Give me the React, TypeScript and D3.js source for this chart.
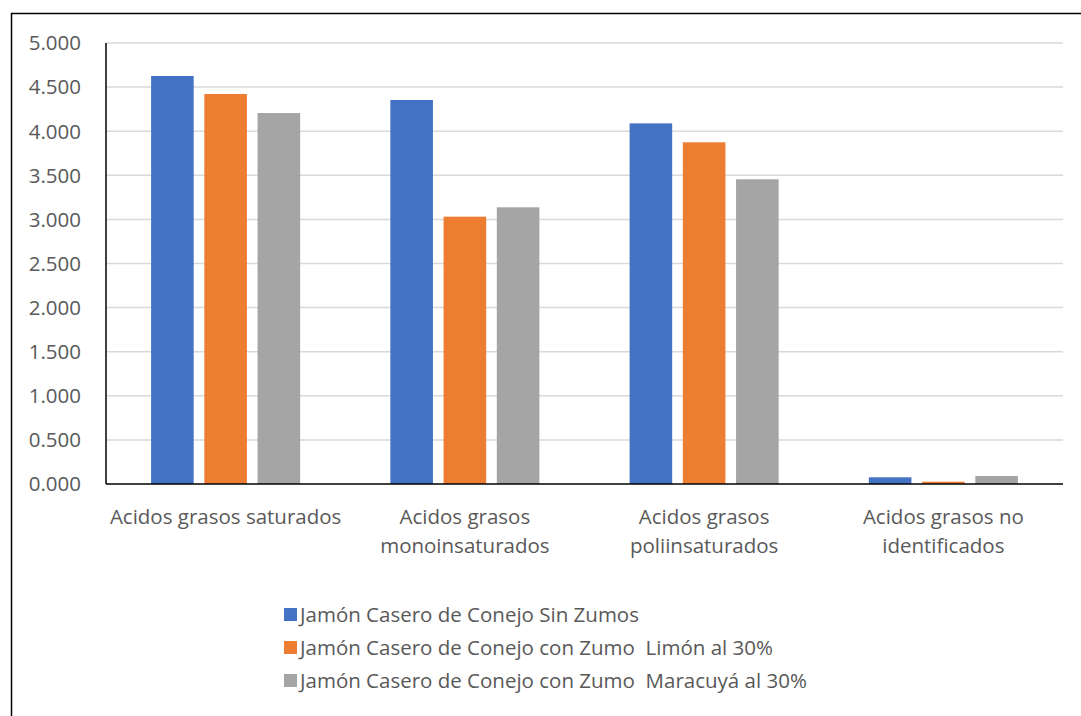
import { useEffect, useRef } from 'react'
import * as d3 from 'd3'

const categories = [
  ['Acidos grasos saturados'],
  ['Acidos grasos', 'monoinsaturados'],
  ['Acidos grasos', 'poliinsaturados'],
  ['Acidos grasos no', 'identificados'],
]
const seriesNames = [
  'Jamón Casero de Conejo Sin Zumos',
  'Jamón Casero de Conejo con Zumo  Limón al 30%',
  'Jamón Casero de Conejo con Zumo  Maracuyá al 30%',
]
const sinZumos = [4.626, 4.354, 4.089, 0.076]
const limon = [4.422, 3.031, 3.874, 0.026]
const maracuya = [4.206, 3.137, 3.455, 0.091]
const yTicks = [0, 0.5, 1, 1.5, 2, 2.5, 3, 3.5, 4, 4.5, 5]
const colors = ['#4472c4', '#ed7d31', '#a5a5a5']

const App = () => {
  const svgRef = useRef(null)

  useEffect(() => {
    const width = 1081
    const height = 716
    const left = 106
    const right = 1063
    const top = 43
    const bottom = 484
    const font = '"Open Sans", sans-serif'
    const textColor = '#595959'

    const svg = d3.select(svgRef.current)
    svg.selectAll('*').remove()
    svg.attr('width', width).attr('height', height)

    // chart border
    svg
      .append('rect')
      .attr('x', 11.5)
      .attr('y', 13.5)
      .attr('width', 1100)
      .attr('height', 720)
      .attr('fill', 'white')
      .attr('stroke', '#000')
      .attr('stroke-width', 1.5)

    const y = d3.scaleLinear().domain([0, 5]).range([bottom, top])
    const keys = categories.map((c) => c.join(' '))
    const x0 = d3.scaleBand().domain(keys).range([left, right]).paddingInner(0.377).paddingOuter(0.1885)
    const x1 = d3.scaleBand().domain(seriesNames).range([0, x0.bandwidth()]).paddingInner(0.2)
    const values = [sinZumos, limon, maracuya]

    // gridlines
    svg
      .append('g')
      .selectAll('line')
      .data(yTicks.slice(1))
      .join('line')
      .attr('x1', left)
      .attr('x2', right)
      .attr('y1', (d) => y(d))
      .attr('y2', (d) => y(d))
      .attr('stroke', '#d9d9d9')
      .attr('stroke-width', 1.5)

    // y labels
    svg
      .append('g')
      .selectAll('text')
      .data(yTicks)
      .join('text')
      .attr('x', 81)
      .attr('y', (d) => y(d))
      .attr('dy', '0.36em')
      .attr('text-anchor', 'end')
      .attr('font-family', font)
      .attr('font-size', 20.5)
      .attr('fill', textColor)
      .text((d) => d3.format('.3f')(d).replace('.', '.'))

    // bars
    values.forEach((vals, si) => {
      svg
        .append('g')
        .selectAll('rect')
        .data(vals)
        .join('rect')
        .attr('x', (_, i) => (x0(keys[i]) as number) + (x1(seriesNames[si]) as number))
        .attr('y', (d) => y(d))
        .attr('width', x1.bandwidth())
        .attr('height', (d) => bottom - y(d))
        .attr('fill', colors[si])
    })

    // axes lines
    svg.append('line').attr('x1', left).attr('x2', left).attr('y1', top).attr('y2', bottom).attr('stroke', '#000').attr('stroke-width', 1.5)
    svg.append('line').attr('x1', left).attr('x2', right).attr('y1', bottom).attr('y2', bottom).attr('stroke', '#000').attr('stroke-width', 1.5)

    // category labels
    categories.forEach((lines, i) => {
      const cx = (x0(keys[i]) as number) + x0.bandwidth() / 2
      lines.forEach((line, li) => {
        svg
          .append('text')
          .attr('x', cx)
          .attr('y', 524 + li * 29)
          .attr('text-anchor', 'middle')
          .attr('font-family', font)
          .attr('font-size', 20.5)
          .attr('fill', textColor)
          .text(line)
      })
    })

    // legend
    const legend = svg.append('g')
    seriesNames.forEach((name, i) => {
      const ly = 615 + i * 33
      legend.append('rect').attr('x', 284).attr('y', ly - 7).attr('width', 13).attr('height', 13).attr('fill', colors[i])
      legend
        .append('text')
        .attr('x', 300)
        .attr('y', ly)
        .attr('dy', '0.36em')
        .attr('font-family', font)
        .attr('font-size', 20.5)
        .attr('fill', textColor)
        .attr('xml:space', 'preserve')
        .style('white-space', 'pre')
        .text(name)
    })
  }, [])

  return <svg ref={svgRef} style={{ position: 'absolute', left: 0, top: 0 }}></svg>
}

export default App
